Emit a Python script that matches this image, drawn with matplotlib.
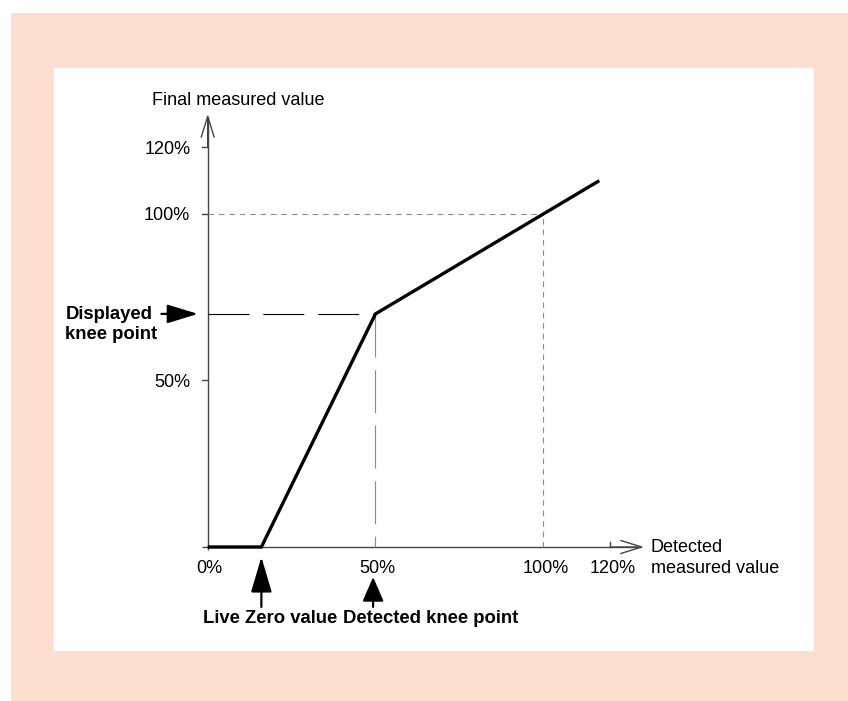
import matplotlib
matplotlib.use("Agg")
import matplotlib.pyplot as plt
from matplotlib.patches import Rectangle

plt.rcParams['font.family'] = ['Liberation Sans', 'DejaVu Sans']
plt.rcParams['lines.scale_dashes'] = False

# Characteristic curve: detected value (%) -> final measured value (%)
curve_x = [0, 16, 50, 116.7]
curve_y = [0, 0, 70, 110]
live_zero = 16
knee_detected = 50
knee_displayed = 70
ref_value = 100
axis_max = 130

x_ticks = [0, 50, 100, 120]
x_tick_labels = ['0%', '50%', '100%', '120%']
y_ticks = [50, 100, 120]
y_tick_labels = ['50%', '100%', '120%']

W, H = 848, 701
fig = plt.figure(figsize=(W / 100, H / 100), dpi=100)
fig.patch.set_facecolor('white')
fig.add_artist(Rectangle((11 / W, 0), 1 - 11 / W, (H - 13) / H,
                         transform=fig.transFigure, facecolor='#FDDFCF',
                         edgecolor='none', zorder=-5))

ax = fig.add_axes([54 / W, 50 / H, 760 / W, 583 / H])
ax.set_facecolor('white')
for s in ax.spines.values():
    s.set_visible(False)
ax.set_xticks([])
ax.set_yticks([])
ax.set_xlim(-45.81, 180.7)
ax.set_ylim(-31.23, 143.84)

ax_col = '#454545'
ax_lw = 1.0
fs = 13
fs_bold = 13.3

# axes with open arrowheads
ax.plot([-1.7, axis_max - 1], [0, 0], color=ax_col, lw=ax_lw, solid_capstyle='butt')
ax.plot([0, 0], [-0.8, axis_max - 1], color=ax_col, lw=ax_lw, solid_capstyle='butt')
arrow_open = dict(arrowstyle='->,head_length=1.5,head_width=0.47', color=ax_col,
                  lw=ax_lw, shrinkA=0, shrinkB=0)
ax.annotate('', xy=(axis_max, 0), xytext=(axis_max - 10, 0), arrowprops=arrow_open)
ax.annotate('', xy=(0, axis_max), xytext=(0, axis_max - 10), arrowprops=arrow_open)

# ticks
for v, lab in zip(y_ticks, y_tick_labels):
    ax.plot([-1.8, 0], [v, v], color=ax_col, lw=ax_lw)
    ax.annotate(lab, xy=(0, v), xytext=(-12.5, -4.6), textcoords='offset points',
                ha='right', va='baseline', fontsize=fs)
for v, lab in zip(x_ticks, x_tick_labels):
    if v == x_ticks[-1]:
        ax.plot([v, v], [0, 1.5], color=ax_col, lw=ax_lw)
    ax.annotate(lab, xy=(v, 0), xytext=(1.5, -19.0), textcoords='offset points',
                ha='center', va='baseline', fontsize=fs)

# reference lines at 100 %
gray = '#8c8c8c'
ax.plot([0, ref_value], [ref_value, ref_value], color=gray, lw=0.8, dashes=(4, 3.5))
ax.plot([ref_value, ref_value], [0, ref_value], color=gray, lw=0.8, dashes=(4, 3.5))

# knee point guides
ax.plot([0, knee_detected], [knee_displayed, knee_displayed], color='black', lw=0.8,
        dashes=(29.5, 10))
ax.plot([knee_detected, knee_detected], [knee_displayed, 0], color=gray, lw=0.8,
        dashes=(31, 9))

# characteristic curve
ax.plot(curve_x, curve_y, color='black', lw=2.4, solid_joinstyle='miter',
        solid_capstyle='butt', zorder=5)

# axis titles
ax.annotate('Final measured value', xy=(0, axis_max), xytext=(-40, 6.5),
            textcoords='offset points', ha='left', va='baseline', fontsize=fs)
ax.annotate('Detected\nmeasured value', xy=(axis_max, 0), xytext=(5, 6.0),
            textcoords='offset points', ha='left', va='top', fontsize=fs,
            linespacing=1.3)

# annotations with filled arrows
solid = dict(color='black', lw=1.6, shrinkA=0, shrinkB=0)
ax.annotate('', xy=(-2.9, knee_displayed), xytext=(-13.8, knee_displayed),
            arrowprops=dict(arrowstyle='-|>,head_length=1.9,head_width=0.58', **solid))
ax.annotate('Displayed\nknee point', xy=(-2.9, knee_displayed), xytext=(-95.5, 6.0),
            textcoords='offset points', ha='left', va='top', fontsize=fs_bold,
            fontweight='bold', linespacing=1.25)

ax.annotate('', xy=(live_zero, -3.0), xytext=(live_zero, -18.0),
            arrowprops=dict(arrowstyle='-|>,head_length=2.2,head_width=0.65', **solid))
ax.annotate('', xy=(knee_detected - 0.7, -9.0), xytext=(knee_detected - 0.7, -18.0),
            arrowprops=dict(arrowstyle='-|>,head_length=1.5,head_width=0.65', **solid))

ax.annotate('Live Zero value', xy=(0, 0), xytext=(-3.4, -55.0), textcoords='offset points',
            ha='left', va='baseline', fontsize=fs_bold, fontweight='bold')
ax.annotate('Detected knee point', xy=(0, 0), xytext=(97.5, -55.0), textcoords='offset points',
            ha='left', va='baseline', fontsize=fs_bold, fontweight='bold')

fig.savefig('out.png', dpi=100, facecolor=fig.get_facecolor())
